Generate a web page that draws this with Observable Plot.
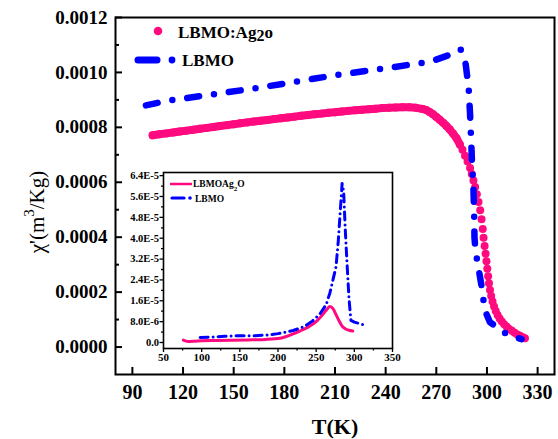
<!DOCTYPE html>
<html><head><meta charset="utf-8">
<script src="https://cdn.jsdelivr.net/npm/d3@7"></script>
<script src="https://cdn.jsdelivr.net/npm/@observablehq/plot@0.6"></script>
<style>
body{margin:0;background:#fff;}
#wrap{position:relative;width:558px;height:439px;}
#wrap svg{position:absolute;left:0;top:0;}
</style></head><body><div id="wrap"></div>
<script>
// ---- main chart data ----
const pinkT = [102,106,110,114,118,122,126,130,134,138,142,146,150,154,158,162,166,170,174,178,182,186,190,194,198,202,206,210,214,218,222,226,230,234,238,242,246,250,254,258,262,264,266,268,270,272,274,276,278,280,282,284,285.5,287,288.5,290,291,292,293,294,295,296,296.8,297.5,298,298.6,299.2,299.7,300.2,300.7,301.2,301.8,302.5,303.3,304.2,305.2,306.3,307.5,308.8,310.2,311.7,313.2,314.8,316.4,318,319.6,321.2,322.5];
const pinkV = [0.000771,0.000775,0.000778,0.000781,0.000785,0.000788,0.000791,0.000795,0.000798,0.000801,0.000805,0.000808,0.000811,0.000815,0.000818,0.000821,0.000824,0.000827,0.000830,0.000833,0.000836,0.000839,0.000842,0.000845,0.000848,0.000850,0.000853,0.000855,0.000858,0.000860,0.000862,0.000864,0.000866,0.000868,0.000870,0.000871,0.000872,0.000873,0.000873,0.000871,0.000867,0.000863,0.000856,0.000848,0.000838,0.000828,0.000817,0.000805,0.000792,0.000777,0.000760,0.000737,0.000718,0.000697,0.000676,0.000652,0.000630,0.000606,0.000583,0.000556,0.000528,0.000498,0.000465,0.000430,0.000398,0.000368,0.000340,0.000312,0.000285,0.000258,0.000232,0.000208,0.000186,0.000166,0.000148,0.000131,0.000117,0.000104,0.000093,0.000083,0.000074,0.000066,0.000059,0.000052,0.000046,0.000041,0.000036,0.000032];
const blueT = [98,112,133,158,181,210,240,267,277,284.4,287.4,289.2,290,290.6,291.2,292,292.4,292.6,293.2,294.5,296.9,298.7,301.7,312.3,320.5];
const blueV = [0.000880,0.000898,0.000916,0.000938,0.000960,0.000990,0.001015,0.001040,0.001062,0.001084,0.001030,0.000940,0.000847,0.000756,0.000665,0.000575,0.000487,0.000400,0.000350,0.000305,0.000218,0.000135,0.000091,0.000044,0.000029];
const xTicks = [90,120,150,180,210,240,270,300,330];
const yTicks = [0,0.0002,0.0004,0.0006,0.0008,0.0010,0.0012];
const yMinor = [0.0001,0.0003,0.0005,0.0007,0.0009,0.0011];
const pinkName = "LBMO:Ag";
const blueName = "LBMO";
const xTitle = "T(K)";

// ---- inset data ----
const iPinkT = [76,82,90,100,120,140,160,180,200,210,220,230,240,250,258,264,268,272,276,280,284,288,293,298];
const iPinkV = [9e-7,4e-7,5e-7,7e-7,8e-7,9e-7,1.0e-6,1.1e-6,1.5e-6,2.2e-6,3.3e-6,4.6e-6,6.0e-6,8.0e-6,1.05e-5,1.27e-5,1.38e-5,1.3e-5,1.07e-5,8.3e-6,6.3e-6,5.3e-6,4.7e-6,4.4e-6];
const iBlueT = [98,110,130,150,170,190,200,220,235,245,255,263,268,272,276,279,281.5,284,286,288,290.5,293,295.5,300,310,317];
const iBlueV = [1.9e-6,2.0e-6,2.4e-6,2.6e-6,2.6e-6,3.0e-6,3.4e-6,4.6e-6,6.2e-6,8.2e-6,1.1e-5,1.45e-5,1.9e-5,2.4e-5,2.9e-5,3.9e-5,5.0e-5,6.1e-5,5.8e-5,4.4e-5,3.0e-5,1.7e-5,8.5e-6,7.8e-6,7.0e-6,6.4e-6];
const iXTicks = [50,100,150,200,250,300,350];
const iXMinor = [75,125,175,225,275,325];
const iYTicks = [0,8e-6,1.6e-5,2.4e-5,3.2e-5,4.0e-5,4.8e-5,5.6e-5,6.4e-5];
const iYMinor = [4e-6,1.2e-5,2.0e-5,2.8e-5,3.6e-5,4.4e-5,5.2e-5,6.0e-5];

const PINK = "#ff0a7f", BLUE = "#0000ff";
const FONT = "'Liberation Serif','Times New Roman',serif";

const pink = pinkT.map((t,i)=>({T:t,v:pinkV[i]}));
const blue = blueT.map((t,i)=>({T:t,v:blueV[i]}));
const iPink = iPinkT.map((t,i)=>({T:t,v:iPinkV[i]}));
const iBlue = iBlueT.map((t,i)=>({T:t,v:iBlueV[i]}));

const W=558,H=439,mL=115,mR=4,mT=17,mB=65;
const pw=W-mL-mR, ph=H-mT-mB;

const main = Plot.plot({
  width:W,height:H,marginLeft:mL,marginRight:mR,marginTop:mT,marginBottom:mB,
  style:{fontFamily:FONT,background:"transparent",overflow:"visible",color:"#000"},
  x:{domain:[80,340]},
  y:{domain:[-0.0001,0.0012]},
  marks:[
    Plot.line(pink.filter(d=>d.T<=284),{x:"T",y:"v",stroke:PINK,strokeWidth:8}),
    Plot.dot(pink,{x:"T",y:"v",r:4,fill:PINK,stroke:"none"}),
    Plot.line(blue,{x:"T",y:"v",stroke:BLUE,strokeWidth:6.5,strokeDasharray:"12,15,0,15",strokeLinecap:"round",strokeLinejoin:"round"}),
    Plot.tickX(xTicks,{x:d=>d,insetTop:ph-7,strokeWidth:2}),
    Plot.tickY(yTicks,{y:d=>d,insetRight:pw-7,strokeWidth:2}),
    Plot.tickY(yMinor,{y:d=>d,insetRight:pw-4,strokeWidth:2}),
    Plot.axisX({ticks:xTicks,tickSize:0,tickPadding:10,fontSize:20,fontWeight:"bold",label:null}),
    Plot.axisY({ticks:yTicks,tickSize:0,tickPadding:8,fontSize:19,fontWeight:"bold",tickFormat:d3.format(".4f"),label:null}),
    Plot.frame({strokeWidth:2})
  ]
});
document.getElementById("wrap").appendChild(main);

const ms = d3.select(main);
// y title
const yt = ms.append("text").attr("transform","translate(37,212) rotate(-90)")
  .attr("text-anchor","middle").attr("dominant-baseline","central")
  .attr("font-family",FONT).attr("font-size",21).attr("fill","#000");
yt.append("tspan").text("χ'(m");
yt.append("tspan").attr("baseline-shift","super").attr("font-size",15).text("3");
yt.append("tspan").text("/Kg)");
// x title
ms.append("text").attr("x",335).attr("y",434).attr("text-anchor","middle")
  .attr("font-family",FONT).attr("font-size",22).attr("font-weight","bold").text(xTitle);
// legend
ms.append("circle").attr("cx",158).attr("cy",31).attr("r",4.3).attr("fill",PINK);
const lt = ms.append("text").attr("x",178).attr("y",38).attr("text-anchor","start").attr("font-family",FONT)
  .attr("font-size",17).attr("font-weight","bold");
lt.append("tspan").text(pinkName);
lt.append("tspan").attr("dy",3).attr("font-size",16).text("2");
lt.append("tspan").attr("dy",-3).text("o");
ms.append("line").attr("x1",138).attr("x2",157).attr("y1",60).attr("y2",60)
  .attr("stroke",BLUE).attr("stroke-width",7).attr("stroke-linecap","round");
ms.append("circle").attr("cx",172).attr("cy",60).attr("r",3.4).attr("fill",BLUE);
ms.append("text").attr("x",182).attr("y",66).attr("text-anchor","start").attr("font-family",FONT)
  .attr("font-size",17).attr("font-weight","bold").text(blueName);

// ---- inset ----
const IW=280, IH=200, iL=43, iR=8, iT=7, iB=17;
const iFmt = d => d===0 ? "0.0" : d3.format(".1e")(d).toUpperCase();
const inset = Plot.plot({
  width:IW,height:IH,marginLeft:iL,marginRight:iR,marginTop:iT,marginBottom:iB,
  style:{fontFamily:FONT,background:"transparent",overflow:"visible",color:"#000"},
  x:{domain:[50,350]},
  y:{domain:[-2.3e-6,6.52e-5]},
  marks:[
    Plot.frame({fill:"#fff",stroke:"none"}),
    Plot.line(iPink,{x:"T",y:"v",stroke:PINK,strokeWidth:3,curve:"monotone-x"}),
    Plot.line(iBlue,{x:"T",y:"v",stroke:BLUE,strokeWidth:3,strokeDasharray:"8,5,0,5",strokeLinecap:"round",strokeLinejoin:"round"}),
    Plot.axisX({ticks:iXTicks,tickSize:4,tickPadding:1,fontSize:11,fontWeight:"bold",strokeWidth:1.3,label:null}),
    Plot.axisX({ticks:iXMinor,tickSize:2.5,tickFormat:()=>"",strokeWidth:1.3,label:null}),
    Plot.axisY({ticks:iYTicks,tickSize:3.5,tickPadding:1,fontSize:10.5,fontWeight:"bold",tickFormat:iFmt,strokeWidth:1.3,label:null}),
    Plot.axisY({ticks:iYMinor,tickSize:2,tickFormat:()=>"",strokeWidth:1.3,label:null}),
    Plot.frame({strokeWidth:1.6})
  ]
});
inset.style.left = "120px";
inset.style.top = "165px";
document.getElementById("wrap").appendChild(inset);
const is = d3.select(inset);
is.append("line").attr("x1",50).attr("x2",72).attr("y1",19).attr("y2",19)
  .attr("stroke",PINK).attr("stroke-width",2.5);
const it = is.append("text").attr("x",73).attr("y",22).attr("text-anchor","start").attr("font-family",FONT)
  .attr("font-size",9.5).attr("font-weight","bold");
it.append("tspan").text("LBMOAg");
it.append("tspan").attr("baseline-shift","sub").attr("font-size",7).text("2");
it.append("tspan").text("O");
is.append("line").attr("x1",52).attr("x2",64).attr("y1",33).attr("y2",33)
  .attr("stroke",BLUE).attr("stroke-width",3.2).attr("stroke-linecap","round");
is.append("circle").attr("cx",70).attr("cy",33).attr("r",1.8).attr("fill",BLUE);
is.append("text").attr("x",75).attr("y",36.5).attr("text-anchor","start").attr("font-family",FONT)
  .attr("font-size",9.5).attr("font-weight","bold").text("LBMO");
</script>
</body></html>
